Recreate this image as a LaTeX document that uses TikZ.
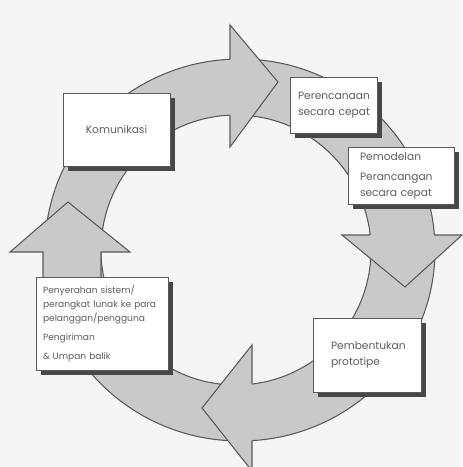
\documentclass[tikz,border=0pt]{standalone}
\usepackage{fontspec}
\setmainfont{Poppins}
\usetikzlibrary{shadows}
\definecolor{bg}{HTML}{F5F5F5}
\definecolor{rg}{HTML}{C9C9C9}
\definecolor{ol}{HTML}{5A5A5A}
\definecolor{tx}{HTML}{5E5E5E}
\definecolor{sh}{HTML}{474747}
\begin{document}
\begin{tikzpicture}[x=0.75pt, y=-0.75pt,
	box/.style={draw=ol, fill=white, line width=0.6pt, inner sep=0pt, align=left, text=tx,
		font=\fontsize{8}{12}\selectfont,
		drop shadow={shadow xshift=4pt, shadow yshift=-4pt, fill=sh, opacity=1}},
	small/.style={font=\fontsize{6.8}{10.5}\selectfont},
	head/.style={fill=rg},
	rim/.style={draw=ol, line width=0.8pt, line join=miter}]
	\fill[bg] (0,0) rectangle (462,467);
	\useasboundingbox (0,0) rectangle (462,467);
	
	% ring
	\fill[rg, even odd rule] (240,250) ellipse [x radius=195, y radius=191] (236,250) circle [radius=135];
	\draw[rim] (240,250) ellipse [x radius=195, y radius=191];
	\draw[rim] (236,250) circle [radius=135];
	
	% arrow heads
	\fill[head] (230,25) -- (278,82) -- (230,147) -- cycle;
	\draw[rim] (230,59.3) -- (230,25) -- (278,82) -- (230,147) -- (230,115.1);
	
	\fill[head] (342,235) -- (405,287) -- (462,235) -- cycle;
	\draw[rim] (370,235) -- (342,235) -- (405,287) -- (462,235) -- (434.4,235);
	
	\fill[head] (252,345) -- (202,408) -- (252,471) -- cycle;
	\draw[rim] (252,384) -- (252,345) -- (202,408) -- (252,471) -- (252,440.6);
	
	\fill[head] (43,300) -- (43,252) -- (10,252) -- (68,202) -- (130,252) -- (101,252) -- (101,300) -- cycle;
	\draw[rim] (43,300) -- (43,252) -- (10,252) -- (68,202) -- (130,252) -- (101,252) -- (101,300);
	
	% steps
	\node[box, align=center, minimum width=80.25pt, minimum height=54.75pt] (kom) at (116.5,129.5) {Komunikasi};
	\node[box, text width=53.25pt, minimum width=65.25pt, minimum height=42pt] (ren) at (333.5,105) {Perencanaan\\secara~cepat};
	\node[box, text width=61.5pt, minimum width=79.5pt, minimum height=42.75pt] (mod) at (401,175.5) {Pemodelan\\[3pt]Perancangan\\secara~cepat};
	\node[box, text width=54pt, minimum width=81pt, minimum height=55.5pt] (pro) at (367,355) {Pembentukan\\prototipe};
	\node[box, small, text width=88.5pt, minimum width=99pt, minimum height=69.75pt] (ser) at (102,323.5) {Penyerahan~sistem/\\perangkat~lunak~ke~para\\pelanggan/pengguna\\[4pt]Pengiriman\\[4pt]\&~Umpan~balik};
\end{tikzpicture}
\end{document}
